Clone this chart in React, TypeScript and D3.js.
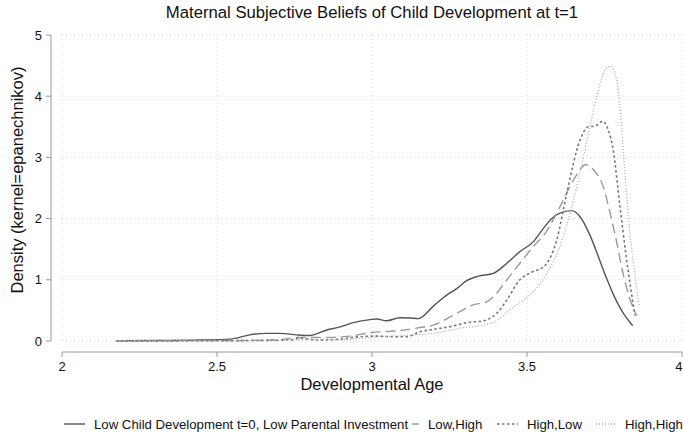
import React from 'react';
import * as d3 from 'd3';

// density estimates, one array of [age, density] per group
const lowLow: [number, number][] = [
  [2.174, 0.005], [2.3, 0.008], [2.445, 0.016], [2.542, 0.03], [2.606, 0.1], [2.66, 0.125],
  [2.703, 0.125], [2.757, 0.1], [2.8, 0.09], [2.854, 0.18], [2.897, 0.23], [2.94, 0.3],
  [2.994, 0.35], [3.015, 0.36], [3.047, 0.33], [3.09, 0.38], [3.123, 0.376], [3.149, 0.365],
  [3.198, 0.57], [3.241, 0.75], [3.273, 0.855], [3.305, 0.985], [3.343, 1.06], [3.391, 1.105],
  [3.435, 1.27], [3.477, 1.46], [3.52, 1.62], [3.553, 1.84], [3.58, 2.0], [3.606, 2.09],
  [3.644, 2.13], [3.671, 2.03], [3.703, 1.73], [3.73, 1.38], [3.757, 1.02], [3.784, 0.7],
  [3.811, 0.45], [3.841, 0.25],
];

const lowHigh: [number, number][] = [
  [2.174, 0.003], [2.4, 0.006], [2.6, 0.01], [2.69, 0.016], [2.768, 0.06], [2.875, 0.06],
  [2.929, 0.08], [2.994, 0.135], [3.09, 0.17], [3.155, 0.22], [3.198, 0.26], [3.262, 0.42],
  [3.327, 0.59], [3.37, 0.64], [3.391, 0.72], [3.435, 1.0], [3.477, 1.27], [3.52, 1.54],
  [3.563, 1.79], [3.606, 2.19], [3.65, 2.63], [3.69, 2.88], [3.719, 2.77], [3.746, 2.52],
  [3.768, 2.09], [3.79, 1.6], [3.81, 1.1], [3.83, 0.72], [3.854, 0.41],
];

const highLow: [number, number][] = [
  [2.174, 0.002], [2.5, 0.004], [2.65, 0.01], [2.735, 0.016], [2.768, 0.045], [2.82, 0.016],
  [2.897, 0.03], [2.94, 0.06], [3.015, 0.08], [3.069, 0.07], [3.112, 0.07], [3.155, 0.15],
  [3.198, 0.19], [3.262, 0.245], [3.305, 0.3], [3.36, 0.33], [3.402, 0.45], [3.435, 0.67],
  [3.477, 1.0], [3.513, 1.12], [3.553, 1.21], [3.596, 1.65], [3.628, 2.41], [3.671, 3.28],
  [3.698, 3.5], [3.719, 3.51], [3.744, 3.59], [3.762, 3.45], [3.778, 3.12], [3.8, 2.19],
  [3.82, 1.38], [3.848, 0.42],
];

const highHigh: [number, number][] = [
  [2.174, 0.001], [2.5, 0.003], [2.7, 0.01], [2.8, 0.03], [2.9, 0.02], [3.004, 0.06],
  [3.133, 0.1], [3.198, 0.125], [3.284, 0.21], [3.36, 0.26], [3.402, 0.33], [3.445, 0.51],
  [3.477, 0.63], [3.52, 0.8], [3.563, 1.1], [3.606, 1.54], [3.639, 2.09], [3.671, 2.74],
  [3.703, 3.5], [3.73, 4.1], [3.752, 4.43], [3.768, 4.49], [3.784, 4.37], [3.8, 3.83],
  [3.816, 2.74], [3.832, 1.76], [3.848, 1.1], [3.862, 0.55],
];

const seriesNames = [
  'Low Child Development t=0, Low Parental Investment',
  'Low,High',
  'High,Low',
  'High,High',
];
const xTicks = [2, 2.5, 3, 3.5, 4];
const yTicks = [0, 1, 2, 3, 4, 5];

const styles = [
  { stroke: '#555', dash: undefined, width: 1.4 },
  { stroke: '#9a9a9a', dash: '10,5', width: 1.4 },
  { stroke: '#777', dash: '2.5,2.5', width: 1.6 },
  { stroke: '#aaa', dash: '1,2', width: 1.3 },
];

const W = 683;
const H = 441;
const font = '"Liberation Sans", Arial, sans-serif';

export default function App() {
  const x = d3.scaleLinear().domain([2, 4]).range([62, 682]);
  const y = d3.scaleLinear().domain([0, 5]).range([341, 35]);
  const line = d3
    .line<[number, number]>()
    .x((d) => x(d[0]))
    .y((d) => y(d[1]))
    .curve(d3.curveMonotoneX);

  const data = [lowLow, lowHigh, highLow, highHigh];
  // legend key starts (stata overflows the first column)
  const keyX = [64, 412, 497, 596];
  const keyW = [21, 7, 21, 21];
  const textX = [94, 428, 527, 625];

  return (
    <svg
      width={W}
      height={H}
      style={{ position: 'absolute', left: 0, top: 0, background: '#fff' }}
      fontFamily={font}
    >
      <text x={372} y={18} textAnchor="middle" fontSize={16.7} fill="#111">
        Maternal Subjective Beliefs of Child Development at t=1
      </text>

      {/* grid */}
      <g stroke="#d4d4d4" strokeWidth={1} strokeDasharray="1,3">
        {yTicks.map((t) => (
          <line key={'gy' + t} x1={x(2)} x2={x(4)} y1={y(t)} y2={y(t)} />
        ))}
        {xTicks.map((t) => (
          <line key={'gx' + t} x1={x(t)} x2={x(t)} y1={y(5)} y2={y(0)} />
        ))}
      </g>

      {/* y axis */}
      <g stroke="#999" strokeWidth={1}>
        <line x1={51} x2={51} y1={y(5)} y2={y(0)} />
        {yTicks.map((t) => (
          <line key={'ty' + t} x1={46} x2={51} y1={y(t)} y2={y(t)} />
        ))}
      </g>
      {yTicks.map((t) => (
        <text key={'ly' + t} x={42} y={y(t) + 4.5} textAnchor="end" fontSize={13} fill="#111">
          {t}
        </text>
      ))}
      <text
        transform={`translate(23,180) rotate(-90)`}
        textAnchor="middle"
        fontSize={16.5}
        fill="#111"
      >
        Density (kernel=epanechnikov)
      </text>

      {/* x axis */}
      <g stroke="#999" strokeWidth={1}>
        <line x1={x(2)} x2={x(4)} y1={352} y2={352} />
        {xTicks.map((t) => (
          <line key={'tx' + t} x1={x(t)} x2={x(t)} y1={352} y2={357} />
        ))}
      </g>
      {xTicks.map((t, i) => {
        // last label sits against the right edge, as in the original
        const last = i === xTicks.length - 1;
        return (
          <text
            key={'lx' + t}
            x={last ? W - 0.5 : x(t)}
            y={371}
            textAnchor={last ? 'end' : 'middle'}
            fontSize={13}
            fill="#111"
          >
            {t}
          </text>
        );
      })}
      <text x={(x(2) + x(4)) / 2} y={390} textAnchor="middle" fontSize={16.5} fill="#111">
        Developmental Age
      </text>

      {/* density lines */}
      {data.map((d, i) => (
        <path
          key={'s' + i}
          d={line(d) ?? ''}
          fill="none"
          stroke={styles[i].stroke}
          strokeWidth={styles[i].width}
          strokeDasharray={styles[i].dash}
        />
      ))}

      {/* legend */}
      {seriesNames.map((name, i) => (
        <g key={'lg' + i}>
          <line
            x1={keyX[i]}
            x2={keyX[i] + keyW[i]}
            y1={424}
            y2={424}
            stroke={styles[i].stroke}
            strokeWidth={styles[i].width}
            strokeDasharray={styles[i].dash}
          />
          <text x={textX[i]} y={429} fontSize={13.2} fill="#111">
            {name}
          </text>
        </g>
      ))}
    </svg>
  );
}
